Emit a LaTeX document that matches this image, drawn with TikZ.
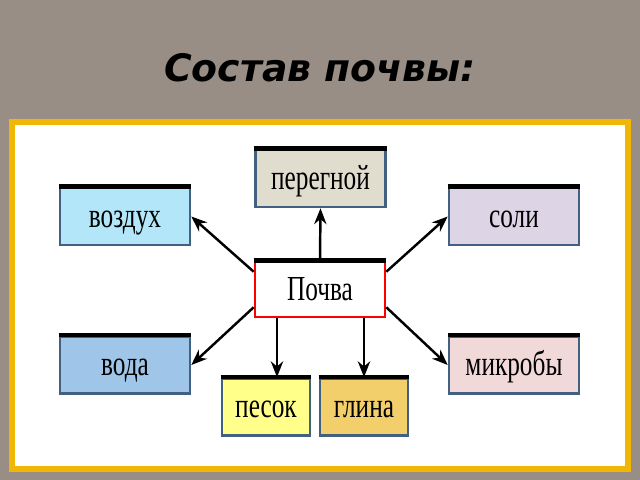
\documentclass[tikz,border=0pt]{standalone}
\usepackage{fontspec}
\setmainfont{Liberation Serif}
\newfontfamily\titlefont{DejaVu Sans}
\usepackage{graphicx}
\usetikzlibrary{arrows.meta,positioning,calc}
\definecolor{bgstone}{HTML}{988E86}
\definecolor{framegold}{HTML}{F2B705}
\definecolor{edgeblue}{HTML}{42607F}
\definecolor{humus}{HTML}{E0DDCF}
\definecolor{airblue}{HTML}{B3E6F8}
\definecolor{saltlilac}{HTML}{DDD4E5}
\definecolor{waterblue}{HTML}{9FC5E8}
\definecolor{microbepink}{HTML}{F1D9D9}
\definecolor{sandyellow}{HTML}{FFFF8A}
\definecolor{clayorange}{HTML}{F2CF6B}
\newcommand{\boxtext}[1]{\raisebox{-6pt}[0pt][0pt]{\scalebox{0.72}[1]{\fontsize{20}{20}\selectfont #1}}}

\begin{document}
\begin{tikzpicture}[
    x=0.02cm, y=-0.02cm,
    part/.style={rectangle, draw=edgeblue, line width=1.5pt, minimum width=2.6cm, minimum height=1.14cm, inner sep=0pt},
    small/.style={part, minimum width=1.76cm},
    center/.style={rectangle, draw=red, line width=1.5pt, fill=white, minimum width=2.6cm, minimum height=1.1cm, inner sep=0pt},
    topline/.style={line width=2.5pt, black},
    arrow/.style={-{Stealth[length=9pt,width=7pt]}, line width=1.4pt, black}
]
\useasboundingbox (0,0) rectangle (640,480);
\fill[bgstone] (0,0) rectangle (640,480);

% Title
\node[font=\titlefont\bfseries\itshape\fontsize{21.5}{21.5}\selectfont] (title) at (320,68) {Состав почвы:};

% Panel
\draw[framegold, line width=3.5pt, fill=white] (12,122) rectangle (628,469);

% Boxes
\node[part, fill=humus] (peregnoy) at (320.5,178.5) {\boxtext{перегной}};
\node[part, fill=airblue] (vozdukh) at (125,216.5) {\boxtext{воздух}};
\node[part, fill=saltlilac] (soli) at (514,216.5) {\boxtext{соли}};
\node[center] (pochva) at (320,289.5) {\boxtext{Почва}};
\node[part, fill=waterblue] (voda) at (125,365) {\boxtext{вода}};
\node[part, fill=microbepink] (mikroby) at (514,365) {\boxtext{микробы}};
\node[small, fill=sandyellow] (pesok) at (266,407) {\boxtext{песок}};
\node[small, fill=clayorange] (glina) at (364,407) {\boxtext{глина}};

% Top edges
\foreach \n in {peregnoy,vozdukh,soli,pochva,voda,mikroby,pesok,glina}
    \draw[topline] (\n.north west) -- (\n.north east);

% Arrows
\draw[arrow] (pochva.north) -- (peregnoy.south);
\draw[arrow] (pochva.165) -- (vozdukh.east);
\draw[arrow] (pochva.15) -- (soli.west);
\draw[arrow] (pochva.195) -- (voda.east);
\draw[arrow] (pochva.-15) -- (mikroby.west);
\draw[arrow] ([xshift=0.22cm]pesok.north |- pochva.south) -- ([xshift=0.22cm]pesok.north);
\draw[arrow] (glina.north |- pochva.south) -- (glina.north);

\end{tikzpicture}
\end{document}
